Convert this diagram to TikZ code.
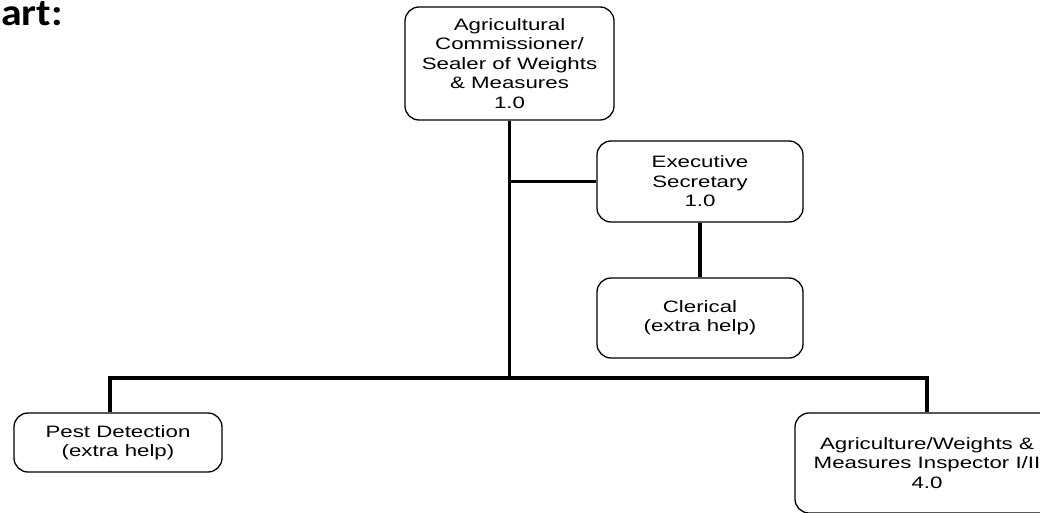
\documentclass[tikz,border=0pt]{standalone}
\usepackage{fontspec}
\setmainfont{Liberation Sans}[FakeStretch=1.35]
\newfontfamily\headfont{Carlito}[FakeStretch=1.1]
\begin{document}
\begin{tikzpicture}[x=1pt,y=-1pt,
  box/.style={draw=black, line width=1.3pt, rounded corners=14pt, align=center,
    inner sep=0pt, font=\fontsize{16.5}{19.4}\selectfont},
  link/.style={draw=black, line width=3.3pt},
]
\useasboundingbox (0,0) rectangle (1040,513);
\clip (0,0) rectangle (1040,513);

% heading
\node[anchor=north west, inner sep=0pt,
  font=\headfont\bfseries\fontsize{38}{38}\selectfont] (title) at (1,1) {art:};

% positions
\node[box, minimum width=209pt, minimum height=113pt] (chief) at (509.5,63.5)
  {Agricultural\\Commissioner/\\Sealer of Weights\\\& Measures\\1.0};
\node[box, minimum width=206pt, minimum height=81pt] (sec) at (700,181.5)
  {Executive\\Secretary\\1.0};
\node[box, minimum width=206pt, minimum height=80pt] (clerk) at (700,318)
  {Clerical\\(extra help)};
\node[box, minimum width=208pt, minimum height=59pt] (pest) at (118,442.5)
  {Pest Detection\\(extra help)};
\node[box, minimum width=264pt, minimum height=100pt] (insp) at (927,463)
  {Agriculture/Weights \&\\Measures Inspector I/II\\4.0};

% connectors
\coordinate (busL) at (110,378);
\coordinate (busR) at (927,378);
\draw[link] (chief.south) -- (chief.south |- busR);
\draw[link, line width=2.7pt] (chief.south |- sec.west) -- (sec.west);
\draw[link] (sec.south) -- (clerk.north);
\draw[link] (busL |- pest.north) -- (busL) -- (busR) -- (busR |- insp.north);
\end{tikzpicture}
\end{document}
